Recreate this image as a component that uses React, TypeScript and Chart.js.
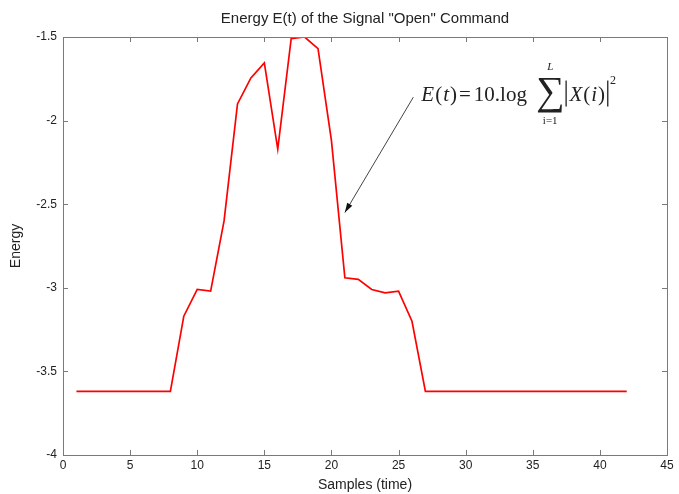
import React, { useEffect, useRef } from "react";
import { Chart, registerables } from "chart.js";

Chart.register(...registerables);

const samples: number[] = [1, 2, 3, 4, 5, 6, 7, 8, 9, 10, 11, 12, 13, 14, 15, 16, 17, 18, 19, 20, 21, 22, 23, 24, 25, 26, 27, 28, 29, 30, 31, 32, 33, 34, 35, 36, 37, 38, 39, 40, 41, 42];
const energy: number[] = [
  -3.62, -3.62, -3.62, -3.62, -3.62, -3.62, -3.62, -3.62, -3.17, -3.01, -3.02, -2.6, -1.9, -1.745, -1.655, -2.17, -1.51, -1.5, -1.57, -2.12, -2.94, -2.95, -3.01, -3.03, -3.02, -3.2, -3.62, -3.62, -3.62, -3.62, -3.62, -3.62, -3.62, -3.62, -3.62, -3.62, -3.62, -3.62, -3.62, -3.62, -3.62, -3.62,
];
const xTicks: number[] = [0, 5, 10, 15, 20, 25, 30, 35, 40, 45];
const yTicks: number[] = [-4, -3.5, -3, -2.5, -2, -1.5];
const titleText = 'Energy E(t) of the Signal "Open" Command';
const xLabel = "Samples (time)";
const yLabel = "Energy";
const arrowFrom = { x: 26.1, y: -1.86 }; // annotation arrow (data coords)
const arrowTo = { x: 21.0, y: -2.55 };
const formulaAt = { x: 26.7, y: -1.88 };

const framePlugin = {
  id: "frame",
  afterDraw(chart: any) {
    const { ctx, chartArea: a, scales } = chart;
    const xs = scales.x, ys = scales.y;
    ctx.save();
    // title
    ctx.fillStyle = "#222";
    ctx.font = "15px 'Liberation Sans', Arial, sans-serif";
    ctx.textAlign = "center";
    ctx.textBaseline = "alphabetic";
    ctx.fillText(titleText, (a.left + a.right) / 2, 23);

    ctx.strokeStyle = "#7a7a7a";
    ctx.lineWidth = 1;
    ctx.strokeRect(Math.round(a.left) + 0.5, Math.round(a.top) + 0.5, Math.round(a.right - a.left), Math.round(a.bottom - a.top));
    ctx.beginPath();
    for (const t of xTicks) {
      const px = Math.round(xs.getPixelForValue(t)) + 0.5;
      ctx.moveTo(px, a.bottom);
      ctx.lineTo(px, a.bottom - 5);
      ctx.moveTo(px, a.top);
      ctx.lineTo(px, a.top + 5);
    }
    for (const t of yTicks) {
      const py = Math.round(ys.getPixelForValue(t)) + 0.5;
      ctx.moveTo(a.left, py);
      ctx.lineTo(a.left + 5, py);
      ctx.moveTo(a.right, py);
      ctx.lineTo(a.right - 5, py);
    }
    ctx.stroke();

    // arrow
    const x1 = xs.getPixelForValue(arrowFrom.x), y1 = ys.getPixelForValue(arrowFrom.y);
    const x2 = xs.getPixelForValue(arrowTo.x), y2 = ys.getPixelForValue(arrowTo.y);
    ctx.strokeStyle = "#444";
    ctx.beginPath();
    ctx.moveTo(x1, y1);
    ctx.lineTo(x2, y2);
    ctx.stroke();
    const ang = Math.atan2(y2 - y1, x2 - x1);
    ctx.fillStyle = "#111";
    ctx.beginPath();
    ctx.moveTo(x2, y2);
    ctx.lineTo(x2 - 10 * Math.cos(ang - 0.3), y2 - 10 * Math.sin(ang - 0.3));
    ctx.lineTo(x2 - 10 * Math.cos(ang + 0.3), y2 - 10 * Math.sin(ang + 0.3));
    ctx.closePath();
    ctx.fill();

    // formula
    const base = ys.getPixelForValue(formulaAt.y);
    let cx = xs.getPixelForValue(formulaAt.x);
    ctx.textAlign = "left";
    ctx.fillStyle = "#222";
    const it = "italic 21px 'Liberation Serif', 'Times New Roman', serif";
    const rm = "21px 'Liberation Serif', 'Times New Roman', serif";
    const draw = (s: string, f: string, dx = 0, dy = 0) => {
      ctx.font = f;
      ctx.fillText(s, cx + dx, base + dy);
      cx += ctx.measureText(s).width + dx;
    };
    draw("E", it);
    draw("(", rm, 1);
    draw("t", it, 1);
    draw(")", rm, 1);
    draw("=", rm, 2);
    draw("10.log", rm, 3);
    // sigma
    const sx = cx + 9;
    ctx.font = "40px 'Liberation Serif', 'Times New Roman', serif";
    ctx.fillText("\u2211", sx, base + 3);
    const sw = ctx.measureText("\u2211").width;
    ctx.font = "italic 11px 'Liberation Serif', serif";
    ctx.textAlign = "center";
    ctx.fillText("L", sx + sw / 2, base - 31);
    ctx.font = "11px 'Liberation Serif', serif";
    ctx.fillText("i=1", sx + sw / 2, base + 23);
    ctx.textAlign = "left";
    cx = sx + sw + 1;
    // |X(i)|^2
    ctx.fillStyle = "#222";
    ctx.fillRect(cx, base - 20, 1.3, 26);
    cx += 4;
    draw("X", it);
    draw("(", rm, 1);
    draw("i", it, 1);
    draw(")", rm, 1);
    ctx.fillRect(cx + 2, base - 20, 1.3, 26);
    cx += 5;
    ctx.font = "12px 'Liberation Serif', serif";
    ctx.fillText("2", cx, base - 17);
    ctx.restore();
  },
};

export default function App() {
  const ref = useRef<HTMLCanvasElement | null>(null);
  useEffect(() => {
    if (!ref.current) return;
    const tickFont = { family: "'Liberation Sans', Arial, sans-serif", size: 12 };
    const chart = new Chart(ref.current, {
      type: "line",
      data: {
        datasets: [
          {
            data: samples.map((s, i) => ({ x: s, y: energy[i] })),
            borderColor: "#ff0000",
            borderWidth: 1.7,
            pointRadius: 0,
            tension: 0,
            fill: false,
          },
        ],
      },
      options: {
        animation: false,
        responsive: false,
        layout: { padding: { left: 0, right: 12, top: 37, bottom: 0 } },
        plugins: { legend: { display: false }, tooltip: { enabled: false }, title: { display: false } },
        scales: {
          x: {
            type: "linear",
            min: 0,
            max: 45,
            afterBuildTicks: (s: any) => {
              s.ticks = xTicks.map((v) => ({ value: v }));
            },
            afterFit: (s: any) => {
              s.height = 39;
            },
            grid: { display: false, drawTicks: false },
            border: { display: false },
            ticks: { color: "#222", font: tickFont, padding: 3, maxRotation: 0, autoSkip: false },
            title: { display: true, text: xLabel, color: "#222", font: { family: "'Liberation Sans', Arial, sans-serif", size: 14 }, padding: { top: 0, bottom: 0 } },
          },
          y: {
            type: "linear",
            min: -4,
            max: -1.5,
            afterBuildTicks: (s: any) => {
              s.ticks = yTicks.map((v) => ({ value: v }));
            },
            afterFit: (s: any) => {
              s.width = 63;
            },
            grid: { display: false, drawTicks: false },
            border: { display: false },
            ticks: { color: "#222", font: tickFont, padding: 6, autoSkip: false, callback: (v: any) => String(v) },
            title: { display: true, text: yLabel, color: "#222", font: { family: "'Liberation Sans', Arial, sans-serif", size: 14 }, padding: { top: 8, bottom: 6 } },
          },
        },
      },
      plugins: [framePlugin],
    });
    return () => chart.destroy();
  }, []);
  return (
    <div style={{ position: "fixed", left: 0, top: 0, width: 679, height: 494, background: "#fff" }}>
      <canvas ref={ref} width={679} height={494} style={{ width: 679, height: 494, display: "block" }} />
    </div>
  );
}
